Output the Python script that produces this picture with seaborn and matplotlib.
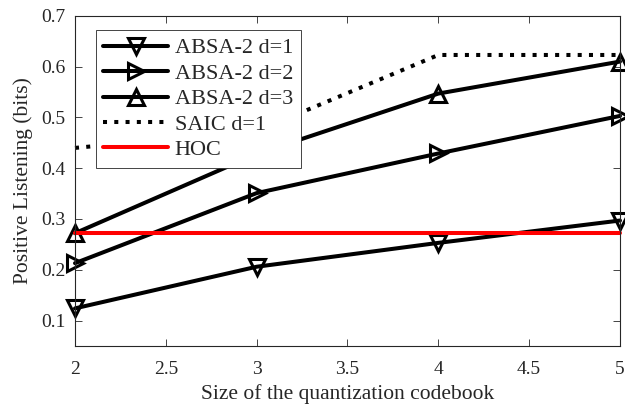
import matplotlib
matplotlib.use('Agg')
import matplotlib.pyplot as plt
import pandas as pd
import seaborn as sns

# values
codebook = [2, 3, 4, 5]
absa_d1 = [0.124, 0.206, 0.253, 0.297]
absa_d2 = [0.213, 0.351, 0.429, 0.503]
absa_d3 = [0.272, 0.428, 0.547, 0.610]
saic_d1 = [0.440, 0.473, 0.623, 0.623]
hoc = [0.272, 0.272, 0.272, 0.272]

sns.set_style('ticks')
plt.rcParams['font.family'] = ['Liberation Serif', 'DejaVu Serif']
plt.rcParams['mathtext.fontset'] = 'stix'

fig = plt.figure(figsize=(6.25, 4.07), dpi=100)
ax = fig.add_axes([0.12, 0.15, 0.872, 0.811])

lw = 2.9
ms = 11
series = [
    ('ABSA-2 d=1', absa_d1, dict(color='black', marker='v', linestyle='-')),
    ('ABSA-2 d=2', absa_d2, dict(color='black', marker='>', linestyle='-')),
    ('ABSA-2 d=3', absa_d3, dict(color='black', marker='^', linestyle='-')),
    ('SAIC d=1', saic_d1, dict(color='black', marker=None, linestyle=(0, (1.0, 1.8)))),
    ('HOC', hoc, dict(color='red', marker=None, linestyle='-')),
]
for name, vals, st in series:
    df = pd.DataFrame({'x': codebook, 'y': vals})
    sns.lineplot(data=df, x='x', y='y', ax=ax, label=name, linewidth=lw,
                 markersize=ms, markerfacecolor='none', markeredgecolor='black',
                 markeredgewidth=2.2, clip_on=False, **st)

ax.set_xlim(2, 5)
ax.set_ylim(0.05, 0.7)
ax.set_xticks([2, 2.5, 3, 3.5, 4, 4.5, 5])
ax.set_xticklabels(['2', '2.5', '3', '3.5', '4', '4.5', '5'])
ax.set_yticks([0.1, 0.2, 0.3, 0.4, 0.5, 0.6, 0.7])
ax.set_yticklabels(['0.1', '0.2', '0.3', '0.4', '0.5', '0.6', '0.7'])
ax.tick_params(direction='in', length=5, width=0.6, top=True, right=True,
               labelsize=14, colors='#262626')
ax.tick_params(axis='x', pad=11)
ax.tick_params(axis='y', pad=7)
for sp in ax.spines.values():
    sp.set_visible(True)
    sp.set_linewidth(0.8)
    sp.set_color('#262626')

ax.set_xlabel('Size of the quantization codebook', fontsize=15.5, color='#262626', labelpad=4)
ax.set_ylabel('Positive Listening (bits)', fontsize=15.5, color='#262626', labelpad=6)

leg = ax.legend(loc='upper left', bbox_to_anchor=(0.038, 0.957), fontsize=16,
                handlelength=2.9, fancybox=False, framealpha=1,
                edgecolor='#262626', borderpad=0.35, labelspacing=0.22,
                handletextpad=0.3, borderaxespad=0)
leg.get_frame().set_linewidth(0.6)
leg.set_zorder(5)

fig.savefig('out.png', dpi=100)
